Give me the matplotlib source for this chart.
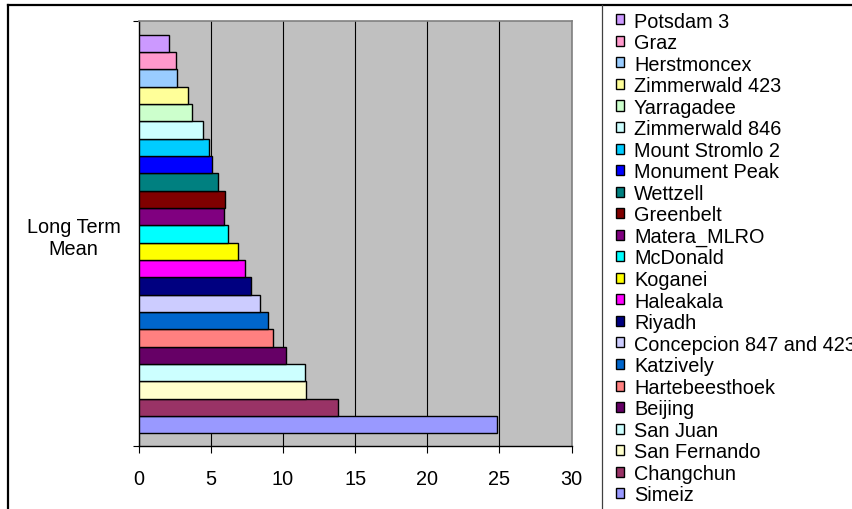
import matplotlib
matplotlib.use("Agg")
import matplotlib.pyplot as plt
from matplotlib.lines import Line2D
import numpy as np

plt.rcParams['font.family'] = ['Liberation Sans', 'DejaVu Sans']

# series in Excel order (first series = bottom bar)
stations = ["Simeiz", "Changchun", "San Fernando", "San Juan", "Beijing",
            "Hartebeesthoek", "Katzively", "Concepcion 847 and 423", "Riyadh",
            "Haleakala", "Koganei", "McDonald", "Matera_MLRO", "Greenbelt",
            "Wettzell", "Monument Peak", "Mount Stromlo 2", "Zimmerwald 846",
            "Yarragadee", "Zimmerwald 423", "Herstmoncex", "Graz", "Potsdam 3"]
values = [24.8, 13.8, 11.6, 11.5, 10.2, 9.3, 9.0, 8.4, 7.8, 7.4, 6.9, 6.2,
          5.95, 5.97, 5.5, 5.1, 4.9, 4.5, 3.7, 3.4, 2.7, 2.6, 2.1]
colors = ["#9999FF", "#993366", "#FFFFCC", "#CCFFFF", "#660066", "#FF8080",
          "#0066CC", "#CCCCFF", "#000080", "#FF00FF", "#FFFF00", "#00FFFF",
          "#800080", "#800000", "#008080", "#0000FF", "#00CCFF", "#CCFFFF",
          "#CCFFCC", "#FFFF99", "#99CCFF", "#FF99CC", "#CC99FF"]
category = "Long Term\nMean"
xticks = [0, 5, 10, 15, 20, 25, 30]

fs = 14.3
fig = plt.figure(figsize=(8.52, 5.10), dpi=100)
ax = fig.add_axes([138.5 / 852, 1 - 446.7 / 510, 433.2 / 852, 425 / 510])
ax.set_facecolor("#C0C0C0")

pos = np.arange(len(stations))
handles = []
for i in range(len(stations)):
    b = ax.barh(pos[i], values[i], height=1.0, color=colors[i],
                edgecolor="black", linewidth=1.0, zorder=3)
    handles.append(b)

ax.set_xlim(0, 30)
ax.set_ylim(-1.216, 23.308)
ax.set_xticks(xticks)
ax.set_xticklabels([str(t) for t in xticks], fontsize=fs)
ax.xaxis.grid(True, color="black", linewidth=0.8, zorder=1)
ax.tick_params(axis="x", direction="out", length=5, width=0.8, pad=12)

ax.set_yticks([11])
ax.set_yticklabels([category], fontsize=fs, multialignment="center")
ax.tick_params(axis="y", which="major", length=0, pad=13)
ax.set_yticks([-1.216, 23.308], minor=True)
ax.tick_params(axis="y", which="minor", direction="out", length=4.5, width=0.8)

for s in ["top", "right"]:
    ax.spines[s].set_color("#808080")
    ax.spines[s].set_linewidth(1.2)
for s in ["left", "bottom"]:
    ax.spines[s].set_color("black")
    ax.spines[s].set_linewidth(1.0)

leg = fig.legend(handles[::-1], stations[::-1], loc="upper left",
                 bbox_to_anchor=(616 / 852, 1 - 12.5 / 510), frameon=False,
                 fontsize=fs, borderpad=0, borderaxespad=0,
                 labelspacing=0.127, handlelength=0.4, handleheight=0.4,
                 handletextpad=0.5)

# chart area border and legend border
fig.add_artist(Line2D([7.5 / 852, 1], [1 - 5.5 / 510, 1 - 5.5 / 510],
                      color="black", linewidth=1.6))
fig.add_artist(Line2D([7.5 / 852, 7.5 / 852], [0, 1 - 5.5 / 510],
                      color="black", linewidth=1.6))
fig.add_artist(Line2D([602 / 852, 602 / 852], [0, 1 - 5.5 / 510],
                      color="#404040", linewidth=0.9))

fig.savefig("out.png", dpi=100)
